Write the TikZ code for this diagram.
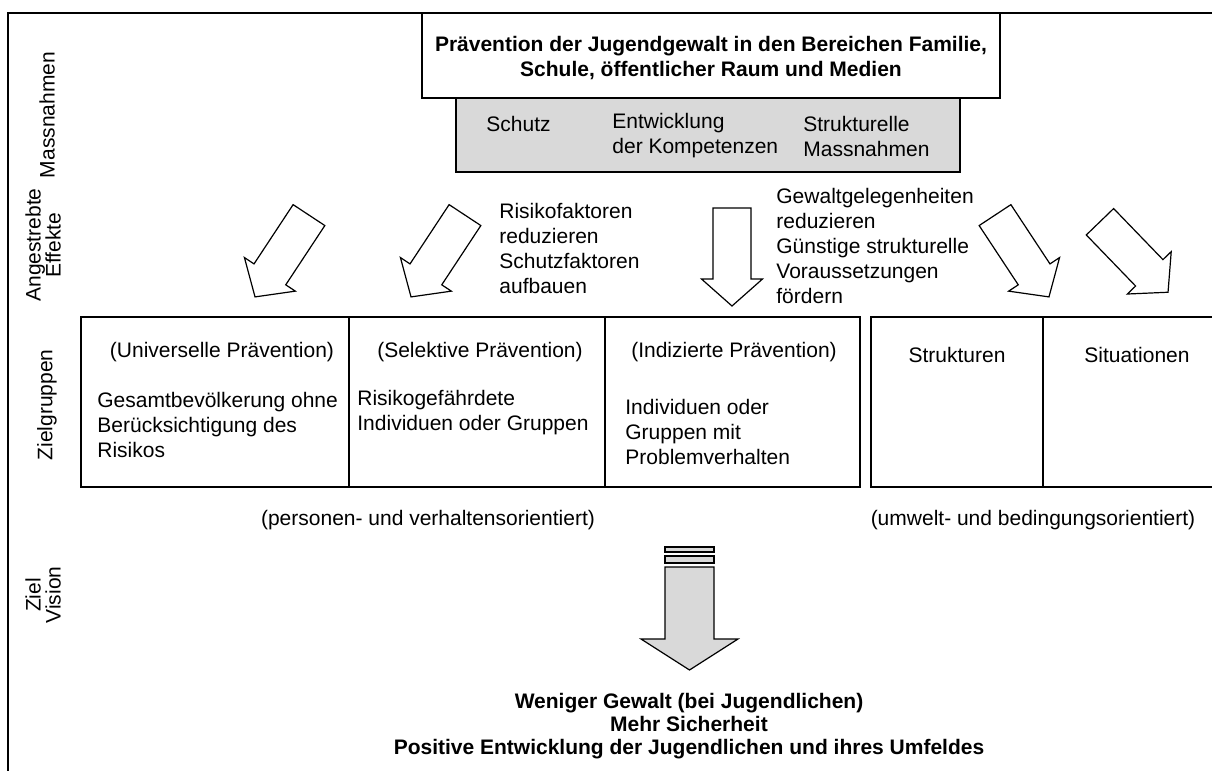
\documentclass[tikz,border=0pt]{standalone}
\usepackage{fontspec}
\setmainfont{Liberation Sans}
\definecolor{boxgray}{HTML}{D9D9D9}

\tikzset{
  txt/.style={font=\fontsize{10.5}{12.5}\selectfont, inner sep=0pt, align=left},
  bold/.style={font=\bfseries\fontsize{10.5}{12.5}\selectfont, inner sep=0pt, align=center},
  side/.style={font=\fontsize{10.5}{10}\selectfont, inner sep=0pt, align=center, rotate=90},
  box/.style={draw, line width=0.6pt, rectangle, inner sep=0pt, minimum height=85pt},
  effarrow/.pic={
    \draw[line width=0.6pt, fill=white] (-49,-19) -- (22,-19) -- (22,-30.5) -- (49,0)
      -- (22,30.5) -- (22,19) -- (-49,19) -- cycle;
  }
}

\begin{document}
\begin{tikzpicture}[x=0.5pt,y=-0.5pt]
    \useasboundingbox (0,0) rectangle (1212,771);
    \clip (0,0) rectangle (1212,771);

    % frame
    \draw[line width=1pt] (8,771) -- (8,13) -- (1212,13);

    % side labels
    \node[side] (lmass) at (47,115) {Massnahmen};
    \node[side] (leff) at (43,245) {Angestrebte\\Effekte};
    \node[side] (lziel) at (47,405) {Zielgruppen};
    \node[side] (lvis) at (43,595) {Ziel\\Vision};

    % measures
    \node[draw, line width=0.6pt, fill=boxgray, inner sep=0pt, minimum width=252pt, minimum height=37pt] (mass) at (708,135) {};
    \node[draw, line width=0.6pt, fill=white, inner sep=0pt, minimum width=289pt, minimum height=42.5pt] (praev) at (711,55.5) {};
    \node[bold] (title) at (711,58.5) {Prävention der Jugendgewalt in den Bereichen Familie,\\Schule, öffentlicher Raum und Medien};
    \node[txt, anchor=west] (schutz) at (486,124) {Schutz};
    \node[txt, anchor=west] (kompet) at (612,136) {Entwicklung\\der Kompetenzen};
    \node[txt, anchor=west] (strukt) at (803,136) {Strukturelle\\Massnahmen};

    % effects
    \pic[rotate=-123.4] (e1) at (282,256) {effarrow};
    \pic[rotate=-123.4] (e2) at (438,256) {effarrow};
    \pic[rotate=-90] (e3) at (732,257) {effarrow};
    \pic[rotate=-56.6] (e4) at (1022,256) {effarrow};
    \pic[rotate=-46] (e5) at (1134,257) {effarrow};
    \node[txt, anchor=west] (risk) at (499,248.5) {Risikofaktoren\\reduzieren\\Schutzfaktoren\\aufbauen};
    \node[txt, anchor=west] (gel) at (776,246) {Gewaltgelegenheiten\\reduzieren\\Günstige strukturelle\\Voraussetzungen\\fördern};

    % target groups
    \node[box, minimum width=134pt] (univ) at (215,402) {};
    \node[box, minimum width=128pt] (selek) at (477,402) {};
    \node[box, minimum width=127.5pt] (indiz) at (732.5,402) {};
    \node[box, minimum width=86pt] (struk) at (957,402) {};
    \node[box, minimum width=108.5pt] (situ) at (1151.5,402) {};

    \node[txt] (tuniv) at (222,352) {(Universelle Prävention)};
    \node[txt, anchor=west] (guniv) at (97,425) {Gesamtbevölkerung ohne\\Berücksichtigung des\\Risikos};
    \node[txt] (tselek) at (480,352) {(Selektive Prävention)};
    \node[txt, anchor=west] (gselek) at (357,412.5) {Risikogefährdete\\Individuen oder Gruppen};
    \node[txt] (tindiz) at (734,352) {(Indizierte Prävention)};
    \node[txt, anchor=west] (gindiz) at (625,432) {Individuen oder\\Gruppen mit\\Problemverhalten};
    \node[txt] (tstruk) at (957,355) {Strukturen};
    \node[txt] (tsitu) at (1137,355) {Situationen};

    \node[txt] (pers) at (428,520) {(personen- und verhaltensorientiert)};
    \node[txt] (umw) at (1033,520) {(umwelt- und bedingungsorientiert)};

    % vision
    \draw[line width=0.6pt, fill=boxgray] (665,547) rectangle (714,552);
    \draw[line width=0.6pt, fill=boxgray] (665,556) rectangle (714,563);
    \draw[line width=0.6pt, fill=boxgray] (665,567) -- (714,567) -- (714,639) -- (738,639)
      -- (689.5,670) -- (641,639) -- (665,639) -- cycle;
    \node[bold, font=\bfseries\fontsize{10.5}{11.5}\selectfont] (ziel) at (689,726) {Weniger Gewalt (bei Jugendlichen)\\Mehr Sicherheit\\Positive Entwicklung der Jugendlichen und ihres Umfeldes};

\end{tikzpicture}
\end{document}
